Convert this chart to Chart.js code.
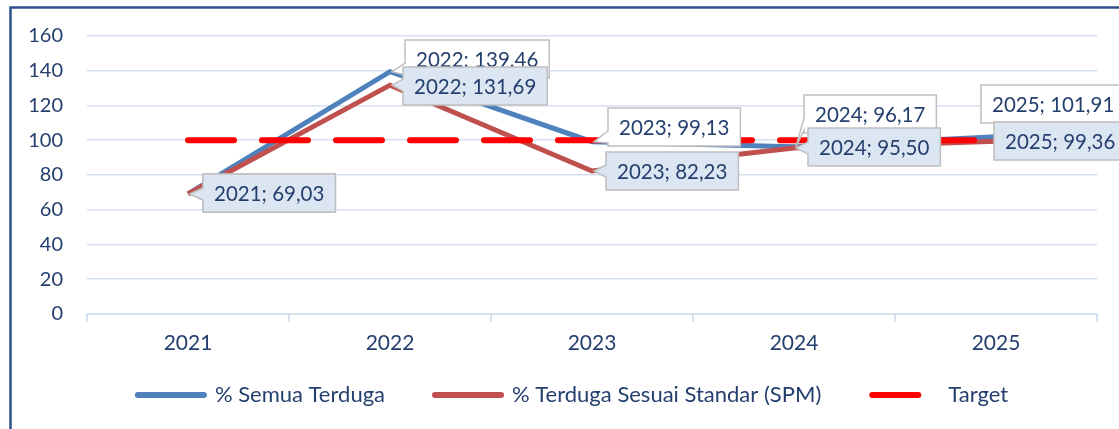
<!DOCTYPE html>
<html>
<head>
<meta charset="utf-8">
<script src="https://cdn.jsdelivr.net/npm/chart.js@4.4.0/dist/chart.umd.min.js"></script>
<style>
  html, body { margin: 0; padding: 0; background: #fff; }
  #wrap { width: 1119px; height: 429px; position: relative; }
</style>
</head>
<body>
<div id="wrap"><canvas id="chart"></canvas></div>
<script>
// data
const years = ["2021", "2022", "2023", "2024", "2025"];
const semuaTerduga = [69.03, 139.46, 99.13, 96.17, 101.91];
const sesuaiStandar = [69.03, 131.69, 82.23, 95.50, 99.36];
const target = [100, 100, 100, 100, 100];
const seriesNames = ["% Semua Terduga", "% Terduga Sesuai Standar (SPM)", "Target"];

// where each callout box sits relative to its point [dx, dy]
const calloutOffsets = [
  [[15, -20], [15, -32], [16, -34], [10, -52], [-15, -52]],
  [[15, -20], [13, -18], [14, -19], [14, -20], [-2, -19]],
];
const calloutFills = ["#FFFFFF", "#DCE6F2"];

const navy = "#243F6E";
const gridBlue = "#D6E0EF";
Chart.defaults.font.family = "Lato, 'Open Sans', sans-serif";

const fmt = v => v.toFixed(2).replace(".", ",");

const frame = {
  id: "frame",
  beforeDraw(chart) {
    const ctx = chart.ctx;
    ctx.save();
    ctx.fillStyle = "#fff";
    ctx.fillRect(0, 0, chart.width, chart.height);
    ctx.strokeStyle = "#2F528F";
    ctx.lineWidth = 2.5;
    ctx.strokeRect(10.5, 7.5, 1300, 600);
    ctx.restore();
  }
};

// nudge the legend a little to the right, like the original
const legendShift = {
  id: "legendShift",
  afterLayout(chart) {
    chart.legend.left += 9;
    chart.legend.right += 9;
  }
};

const callouts = {
  id: "callouts",
  afterDraw(chart) {
    const ctx = chart.ctx;
    ctx.save();
    ctx.font = "20.5px Lato";
    ctx.textBaseline = "middle";
    for (let s = 0; s < 2; s++) {
      const meta = chart.getDatasetMeta(s);
      meta.data.forEach((pt, i) => {
        const text = years[i] + "; " + fmt(chart.data.datasets[s].data[i]);
        const w = ctx.measureText(text).width + 22;
        const h = 38;
        const [dx, dy] = calloutOffsets[s][i];
        const bx = Math.round(pt.x + dx), by = Math.round(pt.y + dy);
        ctx.beginPath();
        ctx.moveTo(bx, by);
        ctx.lineTo(bx + w, by);
        ctx.lineTo(bx + w, by + h);
        ctx.lineTo(bx, by + h);
        if (pt.x < bx) {
          const c = Math.min(Math.max(pt.y, by + 9), by + h - 9);
          ctx.lineTo(bx, c + 6);
          ctx.lineTo(pt.x + 2, pt.y);
          ctx.lineTo(bx, c - 6);
        }
        ctx.closePath();
        ctx.fillStyle = calloutFills[s];
        ctx.fill();
        ctx.strokeStyle = "#BFBFBF";
        ctx.lineWidth = 1.5;
        ctx.stroke();
        ctx.fillStyle = navy;
        ctx.fillText(text, bx + 11, by + h / 2 + 1);
      });
    }
    ctx.restore();
  }
};

new Chart(document.getElementById("chart"), {
  type: "line",
  data: {
    labels: years,
    datasets: [
      { label: seriesNames[0], data: semuaTerduga, borderColor: "#4F81BD", backgroundColor: "#4F81BD",
        borderWidth: 5, pointRadius: 0, tension: 0, order: 2 },
      { label: seriesNames[1], data: sesuaiStandar, borderColor: "#C0504D", backgroundColor: "#C0504D",
        borderWidth: 5, pointRadius: 0, tension: 0, order: 1 },
      { label: seriesNames[2], data: target, borderColor: "#FF0000", backgroundColor: "#FF0000",
        borderWidth: 6, borderDash: [46, 28], borderCapStyle: "round", pointRadius: 0, tension: 0, order: 0 },
    ]
  },
  options: {
    responsive: true,
    maintainAspectRatio: false,
    animation: false,
    layout: { padding: { left: 0, right: 22, top: 28, bottom: 13 } },
    plugins: {
      tooltip: { enabled: false },
      legend: {
        position: "bottom",
        labels: {
          color: navy,
          font: { size: 22 },
          usePointStyle: true,
          pointStyleWidth: 97,
          padding: 19,
          sort: (a, b) => a.datasetIndex - b.datasetIndex,
          generateLabels: chart => chart.data.datasets.map((ds, i) => ({
            text: ds.label,
            datasetIndex: i,
            pointStyle: "line",
            strokeStyle: ds.borderColor,
            fillStyle: ds.borderColor,
            lineWidth: 6,
            lineCap: "round",
            lineDash: i === 2 ? [46, 200] : [66, 200],
            lineDashOffset: i === 2 ? 214 : 235,
            fontColor: navy,
            hidden: false
          }))
        }
      }
    },
    scales: {
      x: {
        offset: true,
        grid: { offset: true, drawOnChartArea: false, drawTicks: true, tickLength: 8, color: gridBlue, lineWidth: 2 },
        border: { color: gridBlue, width: 2 },
        ticks: { color: navy, font: { size: 21 }, padding: 9 },
      },
      y: {
        min: 0, max: 160,
        afterFit: scale => { scale.width = 87; },
        grid: { color: gridBlue, lineWidth: 1.5, drawTicks: false },
        border: { display: false },
        ticks: { stepSize: 20, color: navy, font: { size: 20 }, padding: 24 },
      }
    }
  },
  plugins: [frame, legendShift, callouts]
});
</script>
</body>
</html>
